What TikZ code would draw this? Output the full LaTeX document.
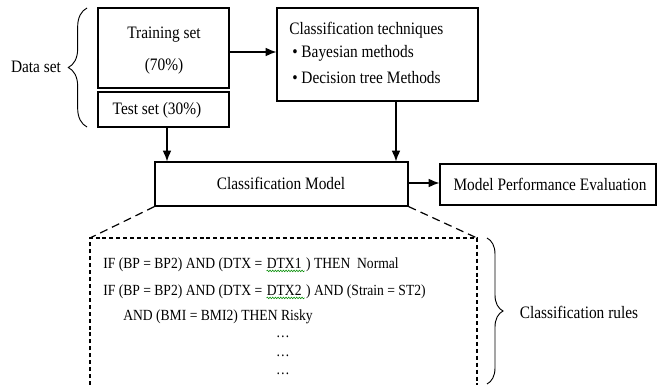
\documentclass[tikz,border=0pt]{standalone}
\usepackage{fontspec}
\setmainfont[FakeStretch=0.88]{Liberation Serif}
\usetikzlibrary{arrows.meta,decorations.pathreplacing,decorations.pathmorphing,fit}
\begin{document}
\begin{tikzpicture}[x=0.75pt,y=-0.75pt,
  box/.style={draw,line width=0.9pt,inner sep=0pt},
  lbl/.style={inner sep=0pt,font=\fontsize{13.1}{15}\selectfont},
  rule/.style={inner sep=0pt,anchor=base west,font=\fontsize{11.6}{13}\selectfont},
  arr/.style={line width=0.9pt,-{Latex[length=8pt,width=6.5pt]}},
  brc/.style={decorate,line width=0.7pt},
  dashbox/.style={line width=0.9pt,dash pattern=on 3pt off 2.2pt},
  dashdiag/.style={line width=0.9pt,dash pattern=on 6pt off 3.8pt},
  wave/.style={draw=green!55!black,line width=0.4pt,decorate,decoration={snake,amplitude=0.6pt,segment length=2pt}}]
\useasboundingbox (0,0) rectangle (657,385);
% boxes
\node[box,fit={(98,8)(229,88)}] (train) {};
\node[box,fit={(98,92)(229,127)}] (test) {};
\node[box,fit={(277,8)(478,101)}] (tech) {};
\node[box,fit={(155,162)(408,206)}] (model) {};
\node[box,fit={(440,164)(656,205)}] (mpe) {};
% box texts
\node[lbl] (trainA) at (164,35) {Training set};
\node[lbl] (trainB) at (164,66) {(70\%)};
\node[lbl] (testT) at (157,110) {Test set (30\%)};
\node[lbl,anchor=west] (techT) at (289,30) {Classification techniques};
\node[lbl,anchor=west] (techB) at (292,53) {\textbullet\ Bayesian methods};
\node[lbl,anchor=west] (techC) at (292,78) {\textbullet\ Decision tree Methods};
\node[lbl] (modelT) at (281,183) {Classification Model};
\node[lbl] (mpeT) at (550,184) {Model Performance Evaluation};
\node[lbl] (data) at (36,67) {Data set};
\node[lbl] (crules) at (579,312) {Classification rules};
% braces
\coordinate (lbA) at (87,127);
\coordinate (lbB) at (87,8);
\draw[brc,decoration={brace,amplitude=14pt}] (lbA) -- (lbB);
\coordinate (rbA) at (487,238);
\coordinate (rbB) at (487,384);
\draw[brc,decoration={brace,amplitude=12pt}] (rbA) -- (rbB);
% arrows
\draw[arr] (train.east |- 0,52) -- (tech.west |- 0,52);
\draw[arr] (test.south -| 167,0) -- (model.north -| 167,0);
\draw[arr] (tech.south -| 396,0) -- (model.north -| 396,0);
\draw[arr] (model.east |- 0,183) -- (mpe.west |- 0,183);
% dashed zoom box
\coordinate (dl) at (90,238);
\coordinate (dr) at (477,238);
\coordinate (dlb) at (90,385);
\coordinate (drb) at (477,385);
\draw[dashbox] (dlb) -- (dl) -- (dr) -- (drb);
\draw[dashdiag] (model.south west) -- (dl);
\draw[dashdiag] (model.south east) -- (dr);
% rules
\node[rule] (r1a) at (103,268) {IF (BP = BP2) AND (DTX =};
\node[rule] (r1b) at ([xshift=3pt]r1a.base east) {DTX1};
\node[rule] (r1c) at ([xshift=3pt]r1b.base east) {) THEN\ \ Normal};
\node[rule] (r2a) at (103,295) {IF (BP = BP2) AND (DTX =};
\node[rule] (r2b) at ([xshift=3pt]r2a.base east) {DTX2};
\node[rule] (r2c) at ([xshift=3pt]r2b.base east) {) AND (Strain = ST2)};
\node[rule] (r3) at (123,320) {AND (BMI = BMI2) THEN Risky};
\node[rule,anchor=center] (d1) at (283,337) {\dots};
\node[rule,anchor=center] (d2) at (283,356) {\dots};
\node[rule,anchor=center] (d3) at (283,374) {\dots};
\draw[wave] ([yshift=-2.2pt]r1b.base west) -- ([yshift=-2.2pt,xshift=2pt]r1b.base east);
\draw[wave] ([yshift=-2.2pt]r2b.base west) -- ([yshift=-2.2pt,xshift=2pt]r2b.base east);
\end{tikzpicture}
\end{document}
